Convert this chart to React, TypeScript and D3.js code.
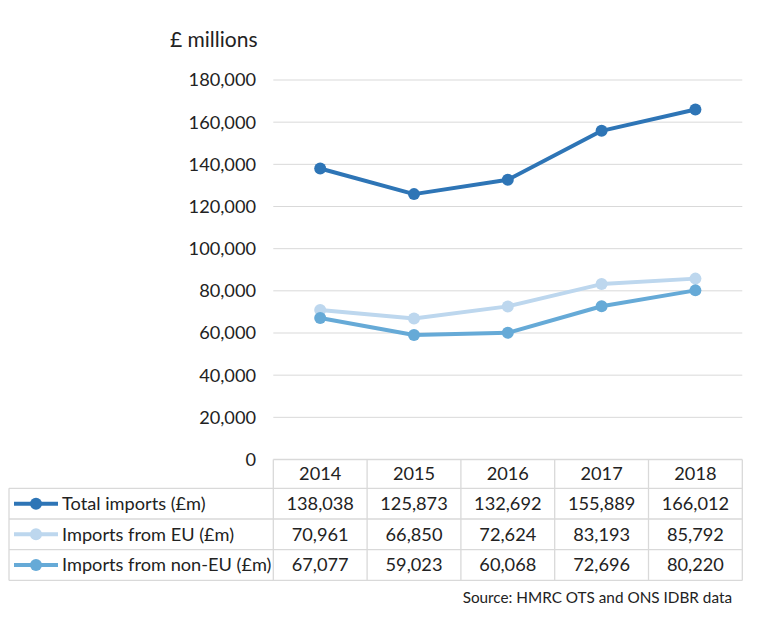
import React from "react";
import * as d3 from "d3";

const years = ["2014", "2015", "2016", "2017", "2018"];
const totalImports = [138038, 125873, 132692, 155889, 166012];
const euImports = [70961, 66850, 72624, 83193, 85792];
const nonEuImports = [67077, 59023, 60068, 72696, 80220];
const yTicks = [0, 20000, 40000, 60000, 80000, 100000, 120000, 140000, 160000, 180000];

const seriesNames = ["Total imports (£m)", "Imports from EU (£m)", "Imports from non-EU (£m)"];
const seriesColors = ["#2E75B6", "#BDD7EE", "#66AAD7"];

export default function App() {
  const W = 758, H = 621;
  const left = 273.3, right = 742.3, top = 80, bottom = 459.5;
  const tableLeft = 9;
  const rowH = 30.7;
  const headerBottom = 488.3;
  const font = "Lato, 'Open Sans', sans-serif";
  const textColor = "#222";
  const grid = "#D9D9D9";
  const fs = 18.2;

  const x = d3.scaleBand<string>().domain(years).range([left, right]);
  const y = d3.scaleLinear().domain([0, 180000]).range([bottom, top]);
  const fmt = d3.format(",");
  const series = [totalImports, euImports, nonEuImports];
  const line = d3
    .line<number>()
    .x((_, i) => (x(years[i]) as number) + x.bandwidth() / 2)
    .y((d) => y(d));

  const order = [1, 2, 0];
  const tableBottom = headerBottom + rowH * 3;

  return (
    <svg width={W} height={H} style={{ position: "absolute", left: 0, top: 0 }}>
      <rect width={W} height={H} fill="#fff" />
      <text x={170} y={47} fontFamily={font} fontSize={21} fill={textColor}>
        £ millions
      </text>
      {yTicks.map((t) => (
        <g key={t}>
          {t > 0 && <line x1={left} x2={right} y1={y(t)} y2={y(t)} stroke={grid} strokeWidth={1} />}
          <text
            x={256}
            y={y(t)}
            dy="0.35em"
            textAnchor="end"
            fontFamily={font}
            fontSize={fs}
            fill={textColor}
          >
            {fmt(t)}
          </text>
        </g>
      ))}
      <g stroke={grid} strokeWidth={1.3} fill="none">
        <line x1={left} x2={right} y1={bottom} y2={bottom} />
        <line x1={tableLeft} x2={right} y1={headerBottom} y2={headerBottom} />
        {[1, 2, 3].map((r) => (
          <line key={r} x1={tableLeft} x2={right} y1={headerBottom + rowH * r} y2={headerBottom + rowH * r} />
        ))}
        <line x1={tableLeft} x2={tableLeft} y1={headerBottom} y2={tableBottom} />
        {years.map((yr) => (
          <line key={yr} x1={x(yr) as number} x2={x(yr) as number} y1={bottom} y2={tableBottom} />
        ))}
        <line x1={right} x2={right} y1={bottom} y2={tableBottom} />
      </g>
      {years.map((yr) => (
        <text
          key={yr}
          x={(x(yr) as number) + x.bandwidth() / 2}
          y={(bottom + headerBottom) / 2}
          dy="0.35em"
          textAnchor="middle"
          fontFamily={font}
          fontSize={fs}
          fill={textColor}
        >
          {yr}
        </text>
      ))}
      {series.map((s, si) => {
        const cy = headerBottom + rowH * si + rowH / 2;
        return (
          <g key={si}>
            <line x1={14} x2={58} y1={cy} y2={cy} stroke={seriesColors[si]} strokeWidth={4} />
            <circle cx={36} cy={cy} r={6} fill={seriesColors[si]} />
            <text x={62} y={cy} dy="0.35em" fontFamily={font} fontSize={fs} fill={textColor}>
              {seriesNames[si]}
            </text>
            {s.map((v, i) => (
              <text
                key={i}
                x={(x(years[i]) as number) + x.bandwidth() / 2}
                y={cy}
                dy="0.35em"
                textAnchor="middle"
                fontFamily={font}
                fontSize={fs}
                fill={textColor}
              >
                {fmt(v)}
              </text>
            ))}
          </g>
        );
      })}
      {order.map((si) => (
        <g key={si}>
          <path d={line(series[si]) || ""} fill="none" stroke={seriesColors[si]} strokeWidth={4} strokeLinejoin="round" />
          {series[si].map((v, i) => (
            <circle
              key={i}
              cx={(x(years[i]) as number) + x.bandwidth() / 2}
              cy={y(v)}
              r={6}
              fill={seriesColors[si]}
            />
          ))}
        </g>
      ))}
      <text x={732} y={603} textAnchor="end" fontFamily={font} fontSize={15.3} fill={textColor}>
        Source: HMRC OTS and ONS IDBR data
      </text>
    </svg>
  );
}
